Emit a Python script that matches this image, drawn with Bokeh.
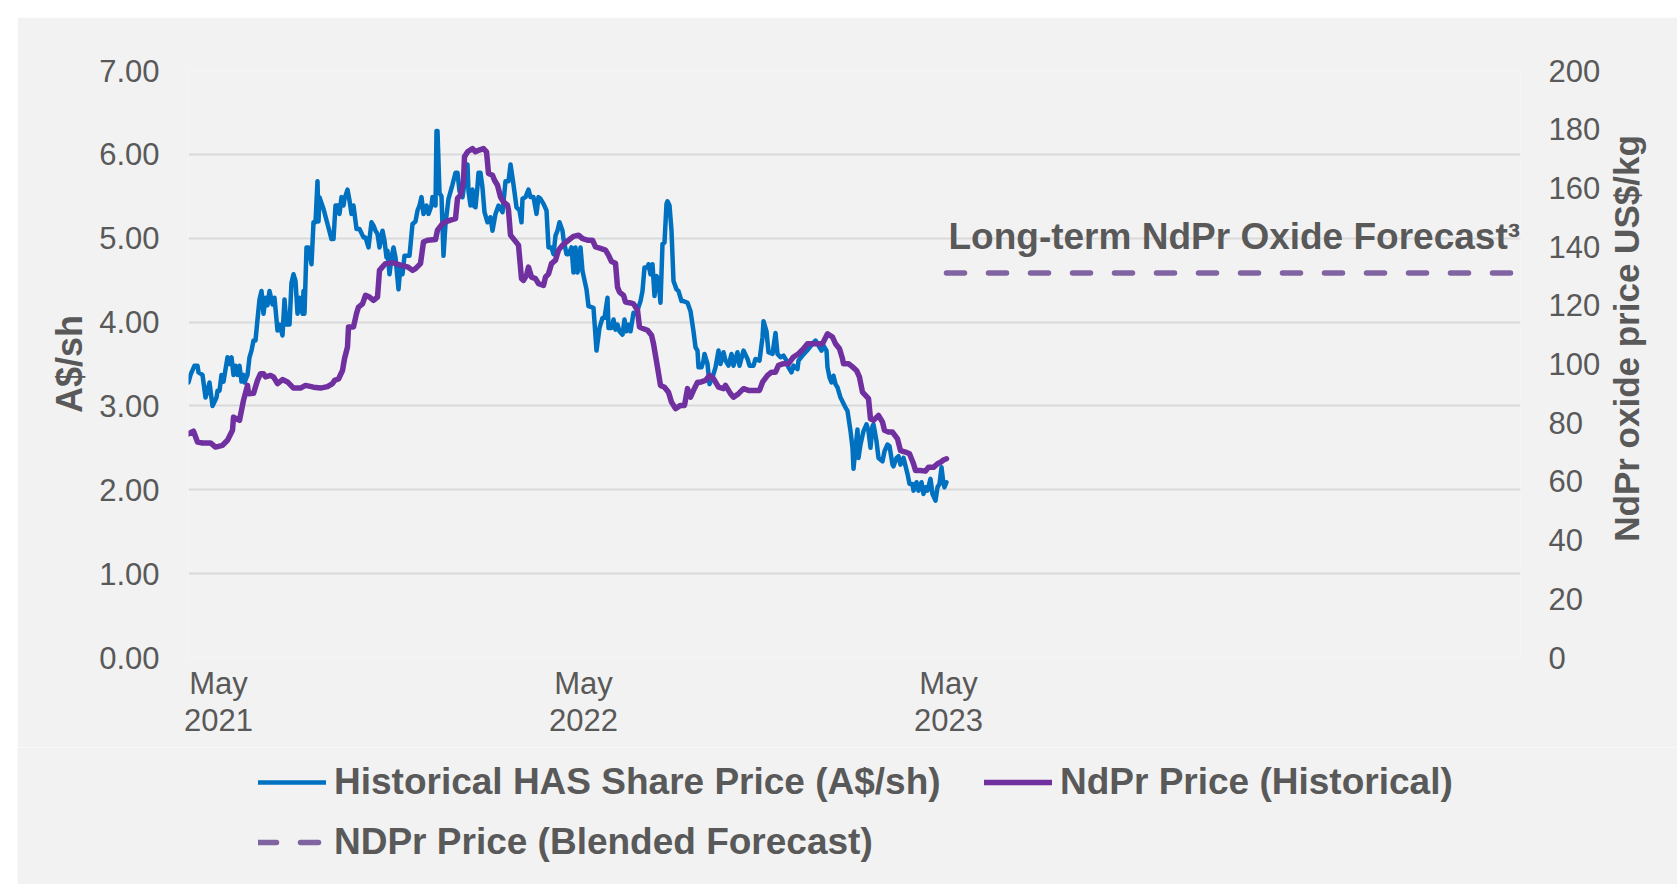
import pandas as pd
from bokeh.plotting import figure
from bokeh.models import (Range1d, LinearAxis, FixedTicker, CustomJSTickFormatter,
                          PrintfTickFormatter, Legend, LegendItem, Label, Spacer)
from bokeh.layouts import column, row
from bokeh.embed import file_html
from bokeh.resources import INLINE

# ---------------- data ----------------
START_DATE = "2021-04-01"          # day 0 of the series below
X_END_DATE = "2024-11-23"
X_TICK_DATES = ["2021-05-01", "2022-05-01", "2023-05-01"]
LEFT_TICKS = [0, 1, 2, 3, 4, 5, 6, 7]
RIGHT_TICKS = [0, 20, 40, 60, 80, 100, 120, 140, 160, 180, 200]

series_names = ["Historical HAS Share Price (A$/sh)",
                "NdPr Price (Historical)",
                "NDPr Price (Blended Forecast)"]
left_title = "A$/sh"
right_title = "NdPr oxide price US$/kg"
forecast_label = "Long-term NdPr Oxide Forecast\u00b3"

has_day = [0, 2, 6, 9, 10, 14, 17, 19, 21, 24, 28, 29, 31, 33, 35, 39, 41, 43, 45, 47, 49, 51, 53, 55, 56,
           59, 61, 63, 65, 67, 69, 71, 73, 75, 77, 79, 81, 84, 86, 89, 91, 94, 96, 98, 101, 103, 105, 107,
           109, 111, 114, 115, 116, 118, 120, 123, 125, 127, 129, 130, 131, 135, 139, 143, 145, 147, 150,
           151, 153, 155, 156, 159, 161, 163, 165, 168, 171, 175, 177, 180, 183, 185, 187, 189, 191, 194,
           196, 198, 199, 201, 203, 205, 207, 210, 212, 214, 216, 219, 221, 224, 227, 229, 231, 233, 235,
           238, 240, 243, 244, 247, 248, 249, 251, 253, 255, 257, 260, 264, 267, 269, 271, 274, 277, 279,
           280, 282, 284, 285, 287, 289, 290, 292, 294, 296, 299, 302, 304, 307, 310, 314, 317, 320, 322,
           325, 328, 331, 333, 334, 337, 340, 342, 345, 348, 350, 352, 355, 358, 360, 363, 365, 367, 369,
           371, 374, 375, 378, 380, 383, 385, 387, 389, 390, 392, 394, 398, 400, 405, 408, 411, 414, 416,
           419, 420, 423, 425, 427, 429, 431, 434, 436, 438, 440, 442, 445, 447, 449, 452, 454, 456, 459,
           460, 462, 464, 466, 468, 470, 472, 474, 476, 478, 479, 481, 483, 485, 488, 490, 493, 495, 499,
           502, 505, 507, 509, 510, 513, 515, 516, 519, 521, 524, 527, 530, 532, 535, 537, 540, 543, 545,
           549, 551, 555, 559, 561, 565, 567, 571, 574, 575, 578, 580, 584, 587, 589, 592, 595, 598, 600,
           603, 605, 609, 610, 614, 617, 620, 624, 627, 630, 633, 635, 638, 639, 641, 643, 645, 647, 649,
           652, 655, 657, 659, 662, 664, 665, 667, 669, 670, 672, 675, 678, 680, 682, 684, 685, 688, 690,
           694, 696, 699, 701, 704, 705, 708, 710, 712, 715, 719, 721, 724, 725, 728, 730, 733, 735, 737,
           739, 742, 744, 747, 749, 751, 753, 755, 756, 758]
has_price = [3.28, 3.37, 3.48, 3.48, 3.40, 3.37, 3.10, 3.18, 3.28, 3.00, 3.10, 3.18, 3.18, 3.37, 3.29, 3.58,
             3.50, 3.58, 3.37, 3.48, 3.37, 3.48, 3.29, 3.37, 3.28, 3.37, 3.58, 3.66, 3.78, 3.78, 4.03, 4.27,
             4.37, 4.10, 4.29, 4.20, 4.37, 4.21, 4.29, 3.90, 3.97, 3.84, 4.27, 3.97, 3.97, 4.47, 4.57, 4.49,
             4.10, 4.29, 4.10, 4.37, 4.10, 4.89, 4.89, 4.69, 5.19, 5.19, 5.68, 5.20, 5.49, 5.35, 5.17, 4.99,
             4.99, 5.39, 5.39, 5.29, 5.49, 5.39, 5.47, 5.58, 5.45, 5.29, 5.39, 5.11, 5.11, 5.01, 5.01, 4.89,
             5.19, 5.15, 5.09, 5.05, 4.89, 5.09, 4.97, 4.77, 4.85, 4.57, 4.77, 4.89, 4.77, 4.39, 4.67, 4.57,
             4.79, 4.79, 4.79, 5.17, 5.20, 5.33, 5.39, 5.49, 5.29, 5.39, 5.29, 5.39, 5.49, 5.39, 6.28, 6.28,
             5.54, 5.50, 4.79, 5.17, 5.47, 5.64, 5.78, 5.78, 5.56, 5.49, 5.74, 5.88, 5.56, 5.39, 5.58, 5.39,
             5.37, 5.62, 5.78, 5.78, 5.60, 5.31, 5.19, 5.25, 5.09, 5.29, 5.39, 5.31, 5.68, 5.68, 5.88, 5.64,
             5.37, 5.33, 5.19, 5.47, 5.49, 5.58, 5.49, 5.49, 5.29, 5.49, 5.47, 5.41, 5.33, 4.89, 4.89, 4.81,
             5.03, 5.09, 5.19, 5.09, 4.99, 4.81, 4.81, 4.89, 4.59, 4.89, 4.59, 4.65, 4.89, 4.61, 4.39, 4.19,
             4.17, 3.66, 3.93, 4.05, 4.05, 4.29, 3.93, 3.93, 4.03, 3.91, 3.97, 3.89, 3.85, 4.03, 3.89, 3.97,
             3.89, 4.11, 4.10, 4.14, 4.25, 4.37, 4.65, 4.65, 4.69, 4.57, 4.69, 4.31, 4.55, 4.49, 4.23, 4.93,
             4.95, 5.41, 5.44, 5.39, 5.09, 4.49, 4.39, 4.37, 4.25, 4.25, 4.23, 4.13, 3.89, 3.70, 3.66, 3.46,
             3.46, 3.54, 3.62, 3.50, 3.26, 3.34, 3.46, 3.66, 3.50, 3.64, 3.54, 3.48, 3.62, 3.48, 3.64, 3.48,
             3.66, 3.56, 3.48, 3.48, 3.56, 3.54, 3.82, 4.01, 3.89, 3.64, 3.62, 3.87, 3.62, 3.58, 3.60, 3.54,
             3.46, 3.40, 3.48, 3.44, 3.54, 3.60, 3.64, 3.68, 3.74, 3.78, 3.72, 3.66, 3.72, 3.66, 3.46, 3.34,
             3.28, 3.36, 3.26, 3.22, 3.10, 3.03, 2.98, 2.94, 2.70, 2.50, 2.25, 2.50, 2.72, 2.38, 2.54, 2.70,
             2.78, 2.70, 2.50, 2.76, 2.78, 2.58, 2.38, 2.34, 2.46, 2.54, 2.52, 2.30, 2.28, 2.38, 2.40, 2.30,
             2.38, 2.19, 2.07, 2.07, 1.99, 2.09, 1.99, 2.09, 1.95, 2.03, 1.99, 2.13, 1.95, 1.87, 2.03, 2.07,
             2.27, 2.07, 2.03, 2.09]

ndpr_day = [0, 5, 9, 14, 22, 27, 34, 39, 44, 45, 48, 51, 55, 59, 60, 65, 69, 72, 75, 77, 82, 85, 89, 94, 99,
            105, 112, 117, 125, 132, 139, 144, 146, 150, 154, 156, 159, 160, 165, 168, 170, 174, 177, 181,
            185, 189, 191, 194, 197, 205, 212, 219, 224, 227, 232, 235, 239, 247, 249, 254, 257, 262, 267,
            269, 272, 275, 276, 279, 284, 287, 290, 295, 298, 300, 304, 306, 309, 312, 315, 319, 320, 322,
            326, 330, 333, 335, 338, 340, 343, 347, 350, 355, 357, 360, 363, 367, 370, 374, 378, 382, 385,
            390, 394, 399, 404, 407, 412, 417, 420, 423, 427, 429, 431, 435, 437, 442, 445, 449, 451, 455,
            459, 463, 465, 469, 472, 476, 480, 483, 487, 492, 496, 499, 502, 505, 509, 512, 517, 521, 525,
            530, 535, 537, 542, 545, 550, 555, 560, 571, 574, 579, 583, 587, 590, 595, 600, 605, 610, 615,
            619, 634, 639, 644, 647, 651, 654, 655, 660, 664, 668, 671, 674, 677, 680, 682, 685, 690, 694,
            696, 700, 704, 709, 712, 717, 721, 725, 727, 732, 737, 740, 745, 749, 752, 755, 758]
ndpr_price = [76.2, 77.1, 73.4, 73.1, 73.1, 71.7, 72.3, 74.0, 77.4, 81.9, 81.3, 80.8, 87.6, 92.7, 89.9, 90.0,
              94.4, 96.7, 96.7, 95.6, 96.1, 95.6, 93.3, 94.7, 93.9, 91.8, 91.8, 92.7, 92.1, 91.8, 92.3, 93.3,
              94.4, 94.9, 97.8, 101.8, 105.8, 112.6, 112.6, 117.2, 119.4, 120.5, 123.4, 122.8, 121.7, 122.8,
              131.9, 133.1, 134.2, 134.5, 133.7, 133.1, 131.9, 132.5, 134.2, 141.6, 142.2, 142.4, 145.6,
              147.8, 148.4, 149.0, 149.5, 156.4, 157.5, 162.6, 170.6, 172.3, 173.4, 172.3, 172.8, 173.4,
              172.3, 164.9, 164.3, 162.6, 160.9, 156.9, 155.2, 154.1, 152.4, 143.9, 142.2, 140.5, 129.1,
              128.5, 130.2, 133.0, 129.6, 129.1, 127.4, 126.8, 129.6, 130.7, 134.2, 135.4, 138.8, 140.5,
              141.6, 142.7, 143.5, 143.9, 142.7, 142.2, 142.2, 139.9, 139.4, 138.8, 137.1, 134.9, 134.3,
              126.2, 124.5, 123.4, 121.1, 120.8, 120.5, 118.3, 112.6, 112.0, 111.5, 109.8, 106.9, 98.9,
              92.7, 92.1, 90.4, 87.0, 84.8, 85.9, 85.9, 91.6, 88.7, 91.0, 93.8, 93.8, 94.4, 96.1, 95.0,
              92.1, 91.6, 92.7, 89.9, 88.7, 89.9, 91.6, 91.0, 91.0, 93.8, 96.1, 97.2, 97.2, 99.5, 100.1,
              100.1, 102.4, 103.5, 105.2, 106.9, 106.9, 110.3, 109.2, 106.9, 105.2, 101.8, 100.1, 100.1,
              99.0, 97.8, 95.5, 90.4, 89.3, 88.2, 81.3, 80.8, 82.5, 80.2, 77.4, 76.8, 76.8, 74.5, 70.5,
              70.0, 69.4, 66.0, 63.7, 63.7, 63.5, 64.8, 64.8, 66.0, 66.5, 67.3, 67.7]

forecast_dates = ["2023-04-29", "2024-11-14"]
forecast_price = [131, 131]

# ---------------- helpers ----------------
DAY_MS = 86400000.0


def ms(d):
    return pd.Timestamp(d).value / 1e6


start_ms = ms(START_DATE)
has_x = [start_ms + d * DAY_MS for d in has_day]
ndpr_x = [start_ms + d * DAY_MS for d in ndpr_day]
fc_x = [ms(d) for d in forecast_dates]

FONT = "Liberation Sans"
TXT = "#595959"
BG = "#f2f2f2"
C_HAS = "#0070C0"
C_NDPR = "#7030A0"
C_FC = "#8064A2"
FC_DASH = "18 24"

W = 1660

# ---------------- main chart ----------------
p = figure(width=W, height=730, x_axis_type="datetime", title=None,
           output_backend="svg", toolbar_location=None,
           x_range=Range1d(ms(START_DATE), ms(X_END_DATE)), y_range=Range1d(0, 7),
           min_border_left=171, min_border_right=157, min_border_top=53, min_border_bottom=90,
           background_fill_color=BG, border_fill_color=BG, outline_line_color=None)
p.extra_y_ranges = {"ndpr": Range1d(0, 200)}

xa = p.xaxis[0]
xa.ticker = FixedTicker(ticks=[ms(d) for d in X_TICK_DATES])
xa.formatter = CustomJSTickFormatter(code="""
const m = ["Jan","Feb","Mar","Apr","May","Jun","Jul","Aug","Sep","Oct","Nov","Dec"];
const d = new Date(tick);
return m[d.getUTCMonth()] + "\\n" + d.getUTCFullYear();
""")
xa.axis_line_color = None
xa.major_tick_line_color = None
xa.minor_tick_line_color = None
xa.major_tick_out = 0
xa.major_label_standoff = 8
xa.major_label_text_font = FONT
xa.major_label_text_font_size = "31px"
xa.major_label_text_line_height = 1.07
xa.major_label_text_color = TXT

ya = p.yaxis[0]
ya.ticker = FixedTicker(ticks=LEFT_TICKS)
ya.formatter = PrintfTickFormatter(format="%.2f")
ya.axis_line_color = None
ya.major_tick_line_color = None
ya.minor_tick_line_color = None
ya.major_tick_out = 0
ya.major_label_standoff = 29
ya.major_label_text_font = FONT
ya.major_label_text_font_size = "31px"
ya.major_label_text_color = TXT
ya.axis_label = left_title
ya.axis_label_text_font = FONT
ya.axis_label_text_font_style = "bold"
ya.axis_label_text_font_size = "36px"
ya.axis_label_text_color = TXT
ya.axis_label_standoff = 6

ra = LinearAxis(y_range_name="ndpr", ticker=FixedTicker(ticks=RIGHT_TICKS))
ra.axis_line_color = None
ra.major_tick_line_color = None
ra.minor_tick_line_color = None
ra.major_tick_out = 0
ra.major_label_standoff = 28
ra.major_label_text_font = FONT
ra.major_label_text_font_size = "31px"
ra.major_label_text_color = TXT
p.add_layout(ra, "right")

# right-hand title, reading bottom-to-top, in the panel beside the right axis
p.add_layout(Label(x=23, y=319, x_units="screen", y_units="screen", angle=90, angle_units="deg",
                   text=right_title, text_font=FONT, text_font_style="bold", text_font_size="35px",
                   text_color=TXT, text_align="center", text_baseline="alphabetic"), "right")

p.xgrid.visible = False
p.ygrid.grid_line_color = "#d9d9d9"
p.ygrid.grid_line_width = 2

p.line(has_x, has_price, line_color=C_HAS, line_width=4.5, line_join="round", line_cap="round")
p.line(ndpr_x, ndpr_price, y_range_name="ndpr", line_color=C_NDPR, line_width=5.5,
       line_join="round", line_cap="round")
p.line(fc_x, forecast_price, y_range_name="ndpr", line_color=C_FC, line_width=5.5,
       line_dash=FC_DASH, line_cap="round")

p.add_layout(Label(x=fc_x[0], y=forecast_price[0], y_range_name="ndpr", x_offset=2, y_offset=37,
                   text=forecast_label, text_font=FONT, text_font_style="bold",
                   text_font_size="37px", text_color=TXT, text_baseline="alphabetic"))

# ---------------- legend strip (below the chart) ----------------
q = figure(width=W, height=137, title=None, output_backend="svg", toolbar_location=None,
           x_range=Range1d(ms(START_DATE), ms(X_END_DATE)), y_range=Range1d(-3, -2), min_border=0,
           x_axis_location=None, y_axis_location=None,
           background_fill_color=BG, border_fill_color=BG, outline_line_color=None)
q.grid.visible = False
legend_x = 70                      # measured from the chart's plotting-area edge
if "frame_align" in q.properties():
    q.frame_align = False          # let the strip's area span its whole width
    legend_x = 70 + 171
# the same series in the strip lie above its y range: only their legend swatches show
g_has = q.line(has_x, has_price, line_color=C_HAS, line_width=4.5, line_cap="round")
g_ndpr = q.line(ndpr_x, ndpr_price, line_color=C_NDPR, line_width=5.5, line_cap="round")
g_fc = q.line(fc_x, forecast_price, line_color=C_FC, line_width=5.5, line_dash=FC_DASH,
              line_cap="round")

legend = Legend(items=[LegendItem(label=series_names[0], renderers=[g_has]),
                       LegendItem(label=series_names[1], renderers=[g_ndpr]),
                       LegendItem(label=series_names[2], renderers=[g_fc])],
                location=(legend_x, 21), orientation="horizontal", ncols=2,
                glyph_width=68, glyph_height=42, label_height=42, label_width=632,
                label_standoff=8, spacing=18, padding=0, margin=0,
                border_line_color=None, background_fill_color=BG, background_fill_alpha=0,
                label_text_font=FONT, label_text_font_style="bold",
                label_text_font_size="37px", label_text_color=TXT)
q.add_layout(legend)

layout = column(Spacer(width=W, height=17),
                row(Spacer(width=17, height=867), column(p, q, spacing=0), spacing=0),
                spacing=0)
open("out.html", "w").write(file_html(layout, INLINE))
